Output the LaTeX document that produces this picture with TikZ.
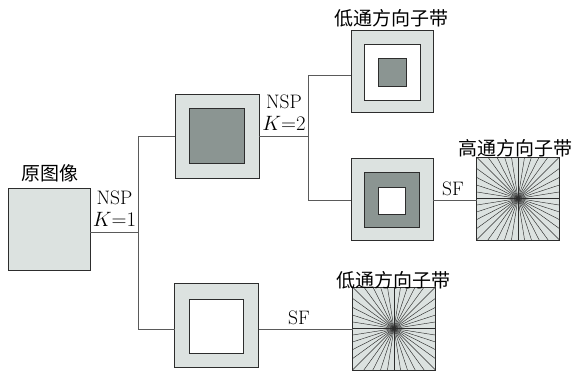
\documentclass[tikz,border=0pt]{standalone}
\usepackage{fontspec}
\newfontfamily\cjk{Noto Sans CJK SC}
\definecolor{panel}{RGB}{220,226,224}
\definecolor{core}{RGB}{139,149,146}
\definecolor{edge}{RGB}{45,45,45}
\definecolor{wire}{RGB}{90,90,90}

\begin{document}
\begin{tikzpicture}[x=1pt,y=-1pt,
  sq/.style={draw=edge, line width=0.9pt, inner sep=0pt, outer sep=0pt},
  lightbox/.style={sq, fill=panel, minimum size=#1},
  darkbox/.style={sq, fill=core, minimum size=#1},
  whitebox/.style={sq, fill=white, minimum size=#1},
  wireline/.style={draw=wire, line width=0.8pt},
  ray/.style={draw=edge, line width=0.45pt},
  lat/.style={inner sep=0pt, font=\fontsize{19.5}{22}\selectfont},
  han/.style={inner sep=0pt, font=\cjk\fontsize{19}{22}\selectfont}
]
\useasboundingbox (0,0) rectangle (576,376);

% original image
\node[lightbox=82pt] (orig) at (49,229) {};
\node[han] (t0) at (50,173) {原图像};

% first level: lowpass and highpass parts
\node[lightbox=84pt] (lp) at (217,136) {};
\node[darkbox=55pt] (lpc) at (216.5,136) {};
\node[lightbox=84pt] (hp) at (216.5,325) {};
\node[whitebox=54pt] (hpc) at (216,326) {};

% second level
\node[lightbox=82pt] (b3) at (392,71) {};
\node[whitebox=56pt] (b3w) at (392,72) {};
\node[darkbox=28pt] (b3c) at (392.5,72.5) {};
\node[han] (t1) at (391,18) {低通方向子带};

\node[lightbox=82pt] (b4) at (392,199) {};
\node[darkbox=55pt] (b4d) at (391.5,200) {};
\node[whitebox=27pt] (b4c) at (392,200.5) {};

% directional filter banks
\node[lightbox=83pt] (fan1) at (518,198.5) {};
\node[lightbox=83pt] (fan2) at (394,328.5) {};
\foreach \f in {fan1,fan2}{
  \begin{scope}
    \clip (\f.north west) rectangle (\f.south east);
    \foreach \a in {0,9,...,351}
      \draw[ray] (\f.center) -- ++(\a:80);
  \end{scope}
  \draw[sq] (\f.north west) rectangle (\f.south east);
}
\node[han] (t2) at (515,148) {高通方向子带};
\node[han] (t3) at (393,280) {低通方向子带};

% junctions
\coordinate (j0) at (138,232);
\coordinate (jA) at (138,136);
\coordinate (jB) at (138,329);
\coordinate (j1) at (308,136);
\coordinate (jC) at (308,75);
\coordinate (jD) at (308,200);

% connectors
\draw[wireline] (orig.east |- j0) -- (j0);
\draw[wireline] (jA -| lp.west) -- (jA) -- (jB) -- (jB -| hp.west);
\draw[wireline] (lp.east |- j1) -- (j1);
\draw[wireline] (jC -| b3.west) -- (jC) -- (jD) -- (jD -| b4.west);
\draw[wireline] (b4.east |- jD) -- (jD -| fan1.west);
\draw[wireline] (hp.east |- jB) -- (jB -| fan2.west);

% labels
\node[lat, align=center, anchor=south] (k1) at (114.5,227) {NSP\\$K{=}1$};
\node[lat, align=center, anchor=south] (k2) at (284,131) {NSP\\$K{=}2$};
\node[lat, anchor=base] (sf1) at (453,195) {SF};
\node[lat, anchor=base] (sf2) at (299,324) {SF};
\end{tikzpicture}
\end{document}
